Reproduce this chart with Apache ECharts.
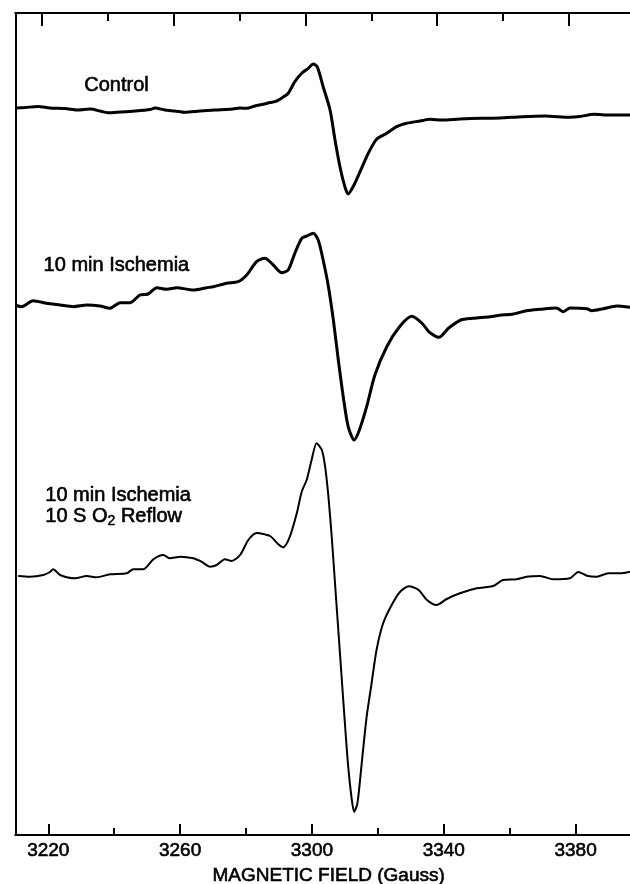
<!DOCTYPE html>
<html>
<head>
<meta charset="utf-8">
<script src="https://cdn.jsdelivr.net/npm/echarts@6/dist/echarts.min.js"></script>
<style>
html,body{margin:0;padding:0;background:#fff;}
#chart{width:630px;height:884px;}
</style>
</head>
<body>
<div id="chart"></div>
<script>
// Magnetic field (Gauss) and EPR signal (arbitrary units, stacked traces)
var ctrlField = [3210.2,3212.9,3216.9,3220.5,3225.1,3229.0,3232.7,3235.7,3238.1,3241.8,3246.3,3250.9,3252.4,3255.4,3258.4,3261.5,3266.0,3270.6,3275.1,3278.2,3280.2,3282.7,3285.2,3287.3,3288.8,3290.9,3292.8,3294.8,3296.9,3298.9,3300.4,3301.6,3303.4,3305.5,3307.0,3308.5,3310.0,3311.0,3312.5,3314.6,3317.1,3319.6,3322.7,3325.7,3328.7,3332.8,3335.8,3339.4,3344.9,3351.6,3357.0,3363.7,3370.7,3378.3,3381.3,3385.6,3390.4,3396.5];
var ctrlSignal = [727,727.5,728.5,727,726.5,725,726,724,722.3,723,724,725.5,727,725,724,722.7,724,725,725.7,727,726.7,729,730.7,732.5,733.3,737,741.7,753.3,761.7,766.7,771,768.3,748.3,725,695,668.3,648.3,641,648.3,663.3,681.7,695.7,701.7,708.3,711.7,714,715.7,715,716,716.7,717,718.3,719,717.7,718.5,720.7,720,720];

var ischField = [3210.2,3211.9,3215.4,3219.5,3223.6,3227.6,3231.7,3235.7,3238.7,3241.8,3244.8,3247.8,3250.3,3252.9,3255.9,3259.0,3264.0,3268.1,3270.1,3274.1,3277.6,3280.2,3283.2,3285.7,3287.8,3290.8,3292.8,3294.8,3296.9,3298.4,3300.4,3301.9,3303.4,3305.0,3306.5,3308.0,3309.5,3311.0,3312.8,3314.4,3316.6,3319.1,3322.7,3326.7,3330.3,3333.3,3335.8,3338.5,3341.4,3345.2,3348.9,3354.0,3357.0,3361.1,3365.1,3369.2,3374.2,3376.3,3378.3,3383.4,3384.9,3388.4,3392.5,3396.5];
var ischSignal = [529.5,528.3,534.3,531.7,530,528.3,530,529,526.7,532.3,532.3,540,541,547.3,545.7,547.3,545,547.3,548.3,551.7,553.3,560,573.3,576.7,571.7,562.3,565,581.7,596.7,599,601.7,595,575,548.3,515,475,438.3,408.3,395,405,428.3,460,488.3,508.7,518.7,512,502.3,497.7,506.7,515,516.7,518.3,519.7,521,524.3,525.7,527,523.3,527,526.3,524.3,526.3,529,527.7];

var reflowField = [3210.9,3214.4,3218.5,3220.5,3221.5,3223.6,3228.1,3231.7,3234.7,3238.7,3243.8,3245.8,3248.8,3251.9,3254.9,3256.9,3260.0,3264.0,3266.5,3269.1,3271.1,3273.6,3275.6,3278.2,3280.7,3283.2,3284.2,3287.3,3289.8,3291.3,3293.3,3295.4,3296.9,3298.4,3299.9,3301.4,3303.0,3304.0,3305.0,3306.0,3307.0,3308.0,3309.0,3310.0,3311.0,3312.1,3312.8,3313.8,3315.1,3316.6,3318.1,3319.6,3321.6,3324.2,3326.7,3329.4,3332.3,3334.9,3337.8,3340.9,3344.9,3350.0,3355.0,3358.0,3362.1,3365.1,3369.2,3373.2,3378.3,3380.8,3383.4,3386.4,3389.9,3393.5,3396.5];
var reflowSignal = [259,258.3,260,263,265.7,260,256.7,259,257.7,260.7,261.7,265.7,265.7,275.7,280,276.7,278.3,276.7,273.3,268.3,270,275.7,274,280,295,302,301.7,299,290.7,287.7,298.3,321.7,343.3,355,375,391.7,385,368.3,338.3,298.3,251.7,205,158.3,111.7,68.3,35,23.3,31.7,71.7,118.3,151.7,185,211.7,230,243,248.7,245.3,235,230,236,241.7,246.7,249,255,255.7,258.3,259,255.7,256.7,263,259.3,258.3,261.7,261.7,263.3];

var majorTicks = [3220, 3260, 3300, 3340, 3380];
var minorTicks = [3240, 3280, 3320, 3360];
var axisTitle = 'MAGNETIC FIELD (Gauss)';
var traceLabels = ['Control', '10 min Ischemia', '10 min Ischemia'];
var reflowLabel = '{a|10 S O}{s|2}{a| Reflow}';

function pairs(xs, ys) { return xs.map(function (x, i) { return [x, ys[i]]; }); }

var FONT = 'Liberation Sans, Arial, Helvetica, sans-serif';
var lineCol = '#000';
var textCol = '#000';
var heavy = { textBorderColor: '#000', textBorderWidth: 0.6 };

var chart = echarts.init(document.getElementById('chart'), null, { renderer: 'canvas' });

var baseAxis = {
  type: 'value',
  gridIndex: 0,
  splitLine: { show: false },
  axisLine: { show: false },
  axisLabel: { show: false },
  axisTick: { show: false }
};

var option = {
  animation: false,
  backgroundColor: '#fff',
  grid: { left: 15.3, right: 0, top: 13, bottom: 49, containLabel: false, outerBoundsMode: 'none' },
  xAxis: [
    Object.assign({}, baseAxis, {
      position: 'bottom', min: 3210, max: 3396.5,
      axisLine: { show: true, onZero: false, lineStyle: { color: lineCol, width: 2 } },
      axisTick: { show: true, inside: true, length: 11, customValues: majorTicks, lineStyle: { color: lineCol, width: 2 } },
      axisLabel: Object.assign({ show: true, customValues: majorTicks, margin: 6, color: textCol, fontSize: 19, fontFamily: FONT,
        formatter: function (v) { return String(v); } }, heavy),
      name: axisTitle, nameLocation: 'middle', nameGap: 31,
      nameTextStyle: Object.assign({ color: textCol, fontSize: 19, fontFamily: FONT, padding: [0, 0, 0, 12] }, heavy)
    }),
    Object.assign({}, baseAxis, {
      position: 'bottom', min: 3210, max: 3396.5,
      axisTick: { show: true, inside: true, length: 7, customValues: minorTicks, lineStyle: { color: lineCol, width: 2 } }
    }),
    Object.assign({}, baseAxis, {
      position: 'top', min: 3212.0, max: 3398.5,
      axisLine: { show: true, onZero: false, lineStyle: { color: lineCol, width: 2 } },
      axisTick: { show: true, inside: true, length: 13, customValues: majorTicks, lineStyle: { color: lineCol, width: 2 } }
    }),
    Object.assign({}, baseAxis, {
      position: 'top', min: 3212.0, max: 3398.5,
      axisTick: { show: true, inside: true, length: 8, customValues: minorTicks, lineStyle: { color: lineCol, width: 2 } }
    })
  ],
  yAxis: [{
    type: 'value', min: 0, max: 822,
    splitLine: { show: false },
    axisLabel: { show: false },
    axisTick: { show: false },
    axisLine: { show: true, onZero: false, lineStyle: { color: lineCol, width: 2 } }
  }],
  series: [
    { name: 'Control', type: 'line', xAxisIndex: 0, yAxisIndex: 0, data: pairs(ctrlField, ctrlSignal),
      showSymbol: false, symbol: 'none', smooth: 0.25, lineStyle: { color: lineCol, width: 3 } },
    { name: '10 min Ischemia', type: 'line', xAxisIndex: 0, yAxisIndex: 0, data: pairs(ischField, ischSignal),
      showSymbol: false, symbol: 'none', smooth: 0.25, lineStyle: { color: lineCol, width: 3 } },
    { name: '10 min Ischemia, 10 S O2 Reflow', type: 'line', xAxisIndex: 0, yAxisIndex: 0, data: pairs(reflowField, reflowSignal),
      showSymbol: false, symbol: 'none', smooth: 0.25, lineStyle: { color: lineCol, width: 2 } }
  ],
  graphic: [
    { type: 'text', left: 84, top: 75, style: { text: traceLabels[0], fill: textCol, font: '20px ' + FONT, stroke: '#000', lineWidth: 0.6 } },
    { type: 'text', left: 43.3, top: 254.7, style: { text: traceLabels[1], fill: textCol, font: '20px ' + FONT, stroke: '#000', lineWidth: 0.6 } },
    { type: 'text', left: 45, top: 484.7, style: { text: traceLabels[2], fill: textCol, font: '20px ' + FONT, stroke: '#000', lineWidth: 0.6 } },
    { type: 'text', left: 45, top: 506, style: {
        text: reflowLabel, fill: textCol, stroke: '#000', lineWidth: 0.6,
        rich: {
          a: { fontSize: 20, fontFamily: FONT, lineHeight: 24, fill: textCol, stroke: '#000', lineWidth: 0.6 },
          s: { fontSize: 14, fontFamily: FONT, lineHeight: 13, verticalAlign: 'bottom', fill: textCol, stroke: '#000', lineWidth: 0.5 }
        }
    } }
  ]
};

chart.setOption(option);
</script>
</body>
</html>
